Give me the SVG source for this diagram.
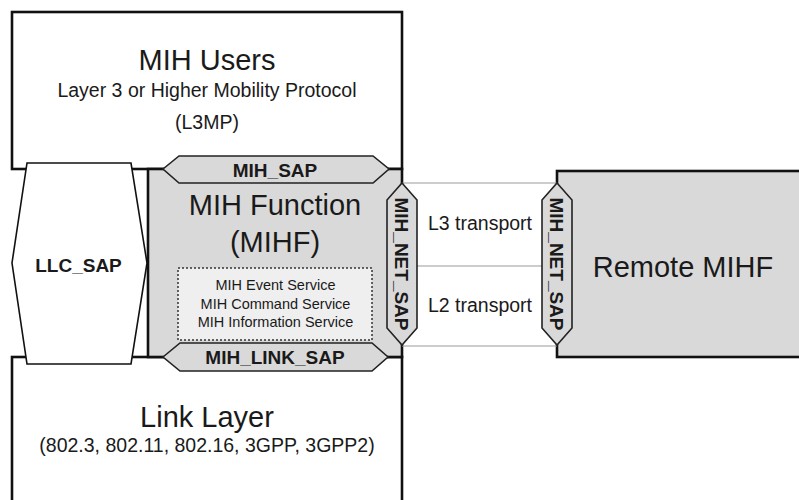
<svg xmlns="http://www.w3.org/2000/svg" width="799" height="500" viewBox="0 0 799 500">
<style>
text{font-family:"Liberation Sans",Arial,sans-serif;fill:#1a1a1a;text-anchor:middle}
.box{stroke:#111;stroke-width:2.6}
.white{fill:#fff}
.gray{fill:#d9d9d9}
.sap{fill:#d9d9d9;stroke:#222;stroke-width:1.6}
.big{font-size:29px}
.mid{font-size:19.5px}
.small{font-size:14.5px}
.bold{font-size:19px;font-weight:bold}
.link{stroke:#999;stroke-width:1.2;fill:none}
</style>
<rect width="799" height="500" fill="#fff"/>
<g id="mih-users">
<rect class="box white" x="12" y="12" width="390" height="157"/>
<text class="big" x="207" y="70">MIH Users</text>
<text class="mid" x="207" y="97">Layer 3 or Higher Mobility Protocol</text>
<text class="mid" x="207" y="129">(L3MP)</text>
</g>
<g id="link-layer">
<rect class="box white" x="12" y="357" width="390" height="160"/>
<text class="big" x="207" y="427">Link Layer</text>
<text class="mid" x="207" y="451.5">(802.3, 802.11, 802.16, 3GPP, 3GPP2)</text>
</g>
<g id="mihf">
<rect class="box gray" x="148" y="169" width="254" height="188"/>
<text class="big" x="275" y="215">MIH Function</text>
<text class="big" x="275" y="252">(MIHF)</text>
<rect x="178" y="268" width="194" height="72" fill="#efefef" stroke="#333" stroke-width="1.5" stroke-dasharray="2,2"/>
<text class="small" x="275.5" y="290">MIH Event Service</text>
<text class="small" x="275.5" y="308.5">MIH Command Service</text>
<text class="small" x="275.5" y="327">MIH Information Service</text>
</g>
<g id="remote-mihf">
<rect class="box gray" x="557" y="171" width="260" height="186"/>
<text class="big" x="683" y="277">Remote MIHF</text>
</g>
<g id="connectors">
<line class="link" x1="402" y1="183" x2="557" y2="183"/>
<line class="link" x1="417" y1="266" x2="542" y2="266"/>
<line class="link" x1="402" y1="346" x2="557" y2="346"/>
</g>
<g id="llc-sap">
<polygon points="27,163 131,163 147,263 131,364 27,364 12,263" fill="#fff" stroke="#111" stroke-width="1.6"/>
<text class="bold" x="78.5" y="272">LLC_SAP</text>
</g>
<g id="mih-sap">
<polygon class="sap" points="163,169 179,156 373,156 389,169 373,183 179,183"/>
<text class="bold" x="275" y="176.5">MIH_SAP</text>
</g>
<g id="mih-link-sap">
<polygon class="sap" points="163,357 180,343 372,343 388,357 372,371 180,371"/>
<text class="bold" x="275" y="364">MIH_LINK_SAP</text>
</g>
<g id="mih-net-sap-local">
<polygon class="sap" points="402,183 417,200 417,328 402,345 387,328 387,200"/>
<text class="bold" transform="translate(402,264) rotate(90)" x="0" y="7">MIH_NET_SAP</text>
</g>
<g id="mih-net-sap-remote">
<polygon class="sap" points="557,183 572,200 572,328 557,345 542,328 542,200"/>
<text class="bold" transform="translate(557,264) rotate(90)" x="0" y="7">MIH_NET_SAP</text>
</g>
<g id="transport-labels">
<text class="mid" x="480" y="230">L3 transport</text>
<text class="mid" x="480" y="312">L2 transport</text>
</g>
</svg>
